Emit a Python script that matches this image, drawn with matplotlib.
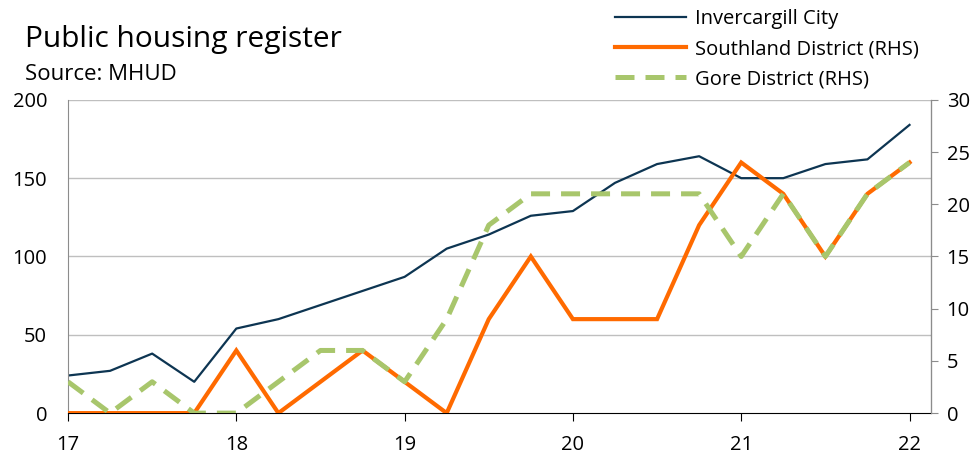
import matplotlib.pyplot as plt
import numpy as np

# quarterly observations, 2017 Q1 .. 2022 Q1
quarters = np.arange(21)
year_ticks = ["17", "18", "19", "20", "21", "22"]

invercargill = [24, 27, 38, 20, 54, 60, 69, 78, 87, 105, 114, 126, 129, 147, 159,
                164, 150, 150, 159, 162, 184]
southland = [0, 0, 0, 0, 6, 0, 3, 6, 3, 0, 9, 15, 9, 9, 9, 18, 24, 21, 15, 21, 24]
gore = [3, 0, 3, 0, 0, 3, 6, 6, 3, 9, 18, 21, 21, 21, 21, 21, 15, 21, 15, 21, 24]

plt.rcParams['font.family'] = ['Open Sans', 'DejaVu Sans']

fig = plt.figure(figsize=(9.8, 4.58), dpi=100)
ax = fig.add_axes([0.0694, 0.098, 0.881, 0.684])
ax2 = ax.twinx()

x = 17 + quarters * 0.25

l1, = ax.plot(x, invercargill, color='#0d3552', lw=1.6, label='Invercargill City')
l2, = ax2.plot(x, southland, color='#ff6a00', lw=3.0, label='Southland District (RHS)',
               solid_joinstyle='miter')
l3, = ax2.plot(x, gore, color='#a8c66c', lw=3.6, dashes=(3.8, 2.2), label='Gore District (RHS)')

ax.set_xlim(17, 22.13)
ax.set_ylim(0, 200)
ax2.set_ylim(0, 30)
ax.set_yticks([0, 50, 100, 150, 200])
ax2.set_yticks([0, 5, 10, 15, 20, 25, 30])
ax.set_xticks(np.arange(17, 23))
ax.set_xticklabels(year_ticks)

for yv in [50, 100, 150, 200]:
    ax.axhline(yv, color='#bfbfbf', lw=1.0, zorder=0)

ax.spines['top'].set_visible(False)
ax2.spines['top'].set_visible(False)
ax.spines['left'].set_color('#8c8c8c')
ax2.spines['left'].set_visible(False)
ax2.spines['right'].set_color('#8c8c8c')
ax.spines['bottom'].set_color('black')
ax2.spines['bottom'].set_visible(False)

ax.tick_params(axis='y', length=0, labelsize=14.5, pad=15)
ax2.tick_params(axis='y', length=5, color='#8c8c8c', labelsize=14.5, pad=6)
ax.tick_params(axis='x', length=6, direction='out', labelsize=14.5, pad=10)

fig.text(0.026, 1 - 47 / 458, 'Public housing register', fontsize=21.5, va='baseline')
fig.text(0.026, 1 - 80 / 458, 'Source: MHUD', fontsize=16, va='baseline')

fig.legend(handles=[l1, l2, l3], loc='upper left', bbox_to_anchor=(0.6276, 0.98),
           frameon=False, fontsize=14.5, handlelength=3.5, labelspacing=0.5,
           handletextpad=0.45, borderpad=0, borderaxespad=0)

fig.savefig('out.png', dpi=100)
